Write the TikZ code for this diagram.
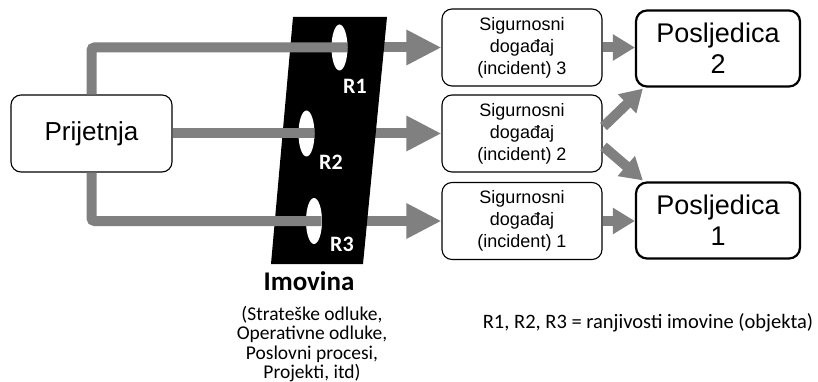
\documentclass[tikz,border=0pt]{standalone}
\usepackage{fontspec}
\setmainfont{Liberation Sans}
\newfontfamily\carlitofont{Carlito}
\usetikzlibrary{arrows.meta,calc,shapes.geometric}
\definecolor{arrowgray}{RGB}{128,128,128}
\tikzset{
  bigarrow/.style={draw=arrowgray,line width=10pt,-{Triangle[length=35pt,width=33pt]}},
  smallarrow/.style={draw=arrowgray,line width=10pt,-{Triangle[length=22pt,width=25pt]}},
  grayline/.style={draw=arrowgray,line width=10pt},
  threatbox/.style={draw,line width=1.1pt,rounded corners=10pt,minimum width=161pt,minimum height=77pt,inner sep=0pt,font=\fontsize{26}{30}\selectfont},
  incbox/.style={draw,line width=1.1pt,rounded corners=10pt,minimum width=160pt,minimum height=77pt,inner sep=0pt,align=center,font=\fontsize{18}{22}\selectfont},
  consbox/.style={draw,line width=2.2pt,rounded corners=11pt,minimum width=164pt,minimum height=76pt,inner sep=0pt,align=center,font=\fontsize{27}{31}\selectfont},
  rlabel/.style={text=white,font=\carlitofont\bfseries\fontsize{22}{24}\selectfont,inner sep=0pt},
  hole/.style={ellipse,fill=white,inner sep=0pt,minimum width=16pt,minimum height=46pt},
}
\begin{document}
\begin{tikzpicture}[x=1pt,y=-1pt]
\useasboundingbox[fill=white] (0,0) rectangle (818,382);
% nodes
\node[threatbox] (p) at (91.5,133.5) {Prijetnja};
\node[incbox] (i3) at (522,47.5) {Sigurnosni\\događaj\\(incident) 3};
\node[incbox] (i2) at (522,133.5) {Sigurnosni\\događaj\\(incident) 2};
\node[incbox] (i1) at (522,221) {Sigurnosni\\događaj\\(incident) 1};
\node[consbox] (c2) at (718,48.5) {Posljedica\\2};
\node[consbox] (c1) at (718,220.5) {Posljedica\\1};
\coordinate (k1) at (339.5,47.5);
\coordinate (k2) at (306.5,133.5);
\coordinate (k3) at (314,221);
% arrows leaving the asset (behind it)
\draw[bigarrow] (k1) -- (i3.west);
\draw[bigarrow] (k2) -- (i2.west);
\draw[bigarrow] (k3) -- (i1.west);
% asset
\fill[black] (293,17) -- (387,17) -- (363,264) -- (271,264) -- cycle;
\node[hole] (h1) at (k1) {};
\node[hole] (h2) at (k2) {};
\node[hole] (h3) at (k3) {};
% threat lines into the holes
\draw[grayline,rounded corners=3pt] (p.north) |- ([xshift=-0.5pt]h1.east);
\draw[grayline] (p.east) -- ([xshift=-0.5pt]h2.east);
\draw[grayline,rounded corners=3pt] (p.south) |- ([xshift=-0.5pt]h3.east);
\node[rlabel] (r1) at (355,86) {R1};
\node[rlabel] (r2) at (331,162) {R2};
\node[rlabel] (r3) at (342,244) {R3};
% incident to consequence arrows
\draw[smallarrow] (i3.east) -- (i3.east -| c2.west);
\draw[smallarrow] ($(i2.east)+(1,-7)$) -- ($(c2.south west)+(8,1)$);
\draw[smallarrow] ($(i2.east)+(1,13)$) -- ($(c1.north west)+(8,-1)$);
\draw[smallarrow] (i1.east) -- (i1.east -| c1.west);
% texts
\node[font=\carlitofont\bfseries\fontsize{27}{30}\selectfont,inner sep=0pt] (im) at (309,281) {Imovina};
\node[font=\carlitofont\fontsize{19.5}{19.3}\selectfont,align=center,inner sep=0pt] (imsub) at (312,344) {(Strateške odluke,\\Operativne odluke,\\Poslovni procesi,\\Projekti, itd)};
\node[font=\carlitofont\fontsize{20.5}{22}\selectfont,inner sep=0pt] (legend) at (648,323) {R1, R2, R3 = ranjivosti imovine (objekta)};
\end{tikzpicture}
\end{document}
